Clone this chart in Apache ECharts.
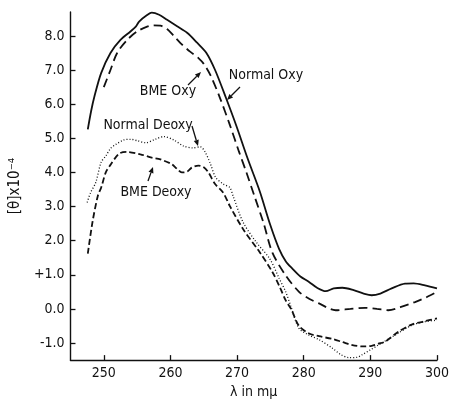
<!DOCTYPE html>
<html>
<head>
<meta charset="utf-8">
<script src="https://cdn.jsdelivr.net/npm/echarts@6/dist/echarts.min.js"></script>
<style>
  html, body { margin: 0; padding: 0; background: #fff; }
  #chart { width: 452px; height: 404px; }
</style>
</head>
<body>
<div id="chart"></div>
<script>
// wavelength (m\u03bc) and [theta] x 10^-4
var normalOxyX = [247.6, 248.1, 248.6, 249.6, 251.0, 252.5, 254.0, 254.8, 255.3, 256.5, 257.2, 258.3, 259.5, 261.0, 262.5, 264.0, 265.4, 266.7, 268.4, 269.9, 271.6, 273.4, 275.0, 276.3, 277.3, 278.3, 279.5, 280.8, 282.0, 283.3, 284.5, 285.8, 287.5, 289.0, 290.2, 291.5, 293.2, 295.2, 296.5, 298.2, 300.0]
var normalOxy = [5.26, 5.8, 6.23, 6.91, 7.5, 7.88, 8.13, 8.27, 8.42, 8.61, 8.68, 8.62, 8.47, 8.28, 8.09, 7.8, 7.5, 7.0, 6.15, 5.36, 4.4, 3.45, 2.45, 1.76, 1.4, 1.18, 0.95, 0.79, 0.62, 0.52, 0.6, 0.62, 0.55, 0.45, 0.4, 0.45, 0.6, 0.74, 0.75, 0.69, 0.6]

var bmeOxyX = [250.0, 251.0, 252.0, 253.5, 255.0, 256.5, 257.5, 258.5, 259.5, 260.5, 261.5, 263.0, 264.2, 265.0, 266.0, 267.4, 268.9, 270.3, 271.4, 272.6, 274.0, 275.3, 277.3, 279.3, 280.8, 282.3, 284.8, 287.0, 289.2, 291.0, 292.7, 294.5, 296.7, 298.5, 300.0]
var bmeOxy = [6.5, 7.0, 7.5, 7.88, 8.13, 8.27, 8.31, 8.3, 8.2, 8.0, 7.79, 7.53, 7.35, 7.18, 6.85, 6.2, 5.4, 4.6, 4.0, 3.31, 2.5, 1.65, 0.98, 0.5, 0.3, 0.16, -0.04, 0.0, 0.03, 0.0, -0.04, 0.05, 0.2, 0.35, 0.5]

var normalDeoxyX = [247.5, 248.0, 248.8, 249.6, 250.3, 251.0, 251.8, 253.0, 254.0, 255.0, 256.3, 257.7, 259.0, 260.5, 262.0, 263.4, 264.5, 265.2, 266.0, 266.8, 268.0, 268.9, 269.4, 270.9, 272.9, 274.9, 276.3, 277.3, 278.1, 279.3, 280.8, 282.3, 284.3, 285.5, 286.8, 288.0, 288.7, 290.0, 291.2, 293.7, 296.2, 298.0, 300.0]
var normalDeoxy = [3.12, 3.4, 3.71, 4.3, 4.48, 4.7, 4.82, 4.95, 4.97, 4.93, 4.87, 4.97, 5.05, 4.95, 4.77, 4.72, 4.75, 4.6, 4.25, 3.85, 3.65, 3.56, 3.31, 2.54, 1.95, 1.47, 0.9, 0.5, 0.06, -0.57, -0.77, -0.9, -1.15, -1.33, -1.43, -1.42, -1.35, -1.2, -1.06, -0.77, -0.48, -0.38, -0.33]

var bmeDeoxyX = [247.6, 248.3, 249.1, 249.6, 250.3, 251.0, 252.3, 253.5, 255.5, 257.2, 258.5, 260.2, 261.0, 261.7, 262.5, 263.2, 264.2, 265.0, 265.7, 266.7, 267.9, 268.9, 270.9, 273.4, 275.3, 276.5, 277.3, 278.1, 279.3, 280.8, 282.3, 284.3, 285.8, 287.3, 289.0, 290.2, 291.2, 292.2, 294.2, 296.2, 298.2, 300.0]
var bmeDeoxy = [1.62, 2.54, 3.31, 3.55, 4.0, 4.22, 4.55, 4.6, 4.53, 4.43, 4.38, 4.24, 4.1, 4.0, 4.02, 4.14, 4.2, 4.15, 4.0, 3.66, 3.41, 3.02, 2.34, 1.66, 1.08, 0.6, 0.25, 0.0, -0.5, -0.72, -0.8, -0.88, -0.97, -1.06, -1.1, -1.08, -1.02, -0.96, -0.67, -0.46, -0.36, -0.28]

var xTicks = [250, 260, 270, 280, 290, 300]
var yTicks = [-1, 0, 1, 2, 3, 4, 5, 6, 7, 8]

var FONT = "'DejaVu Sans Condensed', 'Liberation Sans Narrow', 'DejaVu Sans', sans-serif"
var INK = '#111'

var zip = function zip(xs, ys) {
  var out = []
  for (var i = 0; i < xs.length; i++) {
    out.push([xs[i], ys[i]])
  }
  return out
}

// simple arrow: shaft + filled head at (x2, y2)
var arrow = function arrow(x1, y1, x2, y2) {
  var a = Math.atan2(y2 - y1, x2 - x1)
  var L = 6, W = 2.6
  var bx = x2 - L * Math.cos(a), by = y2 - L * Math.sin(a)
  var px = -Math.sin(a) * W, py = Math.cos(a) * W
  return [
    { type: 'line', shape: { x1: x1, y1: y1, x2: bx, y2: by }, style: { stroke: INK, lineWidth: 1.3 } },
    { type: 'polygon', shape: { points: [[x2, y2], [bx + px, by + py], [bx - px, by - py]] }, style: { fill: INK } }
  ]
}

var label = function label(text, x, y) {
  return {
    type: 'text', x: x, y: y,
    style: { text: text, font: '14px ' + FONT, fill: INK, align: 'center', verticalAlign: 'middle' }
  }
}

var lineSeries = function lineSeries(name, data, type, width) {
  return {
    name: name,
    type: 'line',
    data: data,
    smooth: 0.3,
    symbol: 'none',
    lineStyle: { color: INK, width: width, type: type, cap: 'butt' },
    silent: true
  }
}

var myChart = echarts.init(document.getElementById('chart'), null, { renderer: 'canvas' })

var option = {
  backgroundColor: '#fff',
  animation: false,
  grid: { left: 70, right: 12, top: 12, bottom: 42 },
  xAxis: {
    type: 'value',
    min: 245,
    max: 300,
    name: '\u03bb in m\u03bc',
    nameLocation: 'middle',
    nameGap: 24,
    nameTextStyle: { fontFamily: FONT, fontSize: 14, color: INK },
    axisLine: { show: true, onZero: false, lineStyle: { color: INK, width: 1.4 } },
    axisTick: { show: true, inside: true, length: 5, customValues: xTicks, lineStyle: { color: INK, width: 1.3 } },
    axisLabel: { customValues: xTicks, margin: 6, fontFamily: FONT, fontSize: 14, color: INK },
    splitLine: { show: false }
  },
  yAxis: {
    type: 'value',
    min: -1.5,
    max: 8.7,
    name: '[\u03b8]x10\u207b\u2074',
    nameLocation: 'middle',
    nameGap: 46,
    nameRotate: 90,
    nameTextStyle: { fontFamily: FONT, fontSize: 15, color: INK },
    axisLine: { show: true, onZero: false, lineStyle: { color: INK, width: 1.4 } },
    axisTick: { show: true, inside: true, length: 5, customValues: yTicks, lineStyle: { color: INK, width: 1.3 } },
    axisLabel: {
      customValues: yTicks,
      margin: 6,
      fontFamily: FONT,
      fontSize: 14,
      color: INK,
      formatter: function (v) {
        return v === 1 ? '+1.0' : v.toFixed(1)
      }
    },
    splitLine: { show: false }
  },
  series: [
    lineSeries('Normal Oxy', zip(normalOxyX, normalOxy), 'solid', 1.8),
    lineSeries('BME Oxy', zip(bmeOxyX, bmeOxy), [9, 5], 1.8),
    lineSeries('Normal Deoxy', zip(normalDeoxyX, normalDeoxy), [1, 2], 1.3),
    lineSeries('BME Deoxy', zip(bmeDeoxyX, bmeDeoxy), [6, 3], 1.8)
  ],
  graphic: [
    label('BME Oxy', 168, 91),
    label('Normal Oxy', 266, 75),
    label('Normal Deoxy', 148, 125),
    label('BME Deoxy', 156, 192)
  ].concat(
    arrow(188, 85, 201, 72),
    arrow(240, 87, 227, 100),
    arrow(192, 126, 198, 146),
    arrow(148, 181, 153, 167)
  )
}

myChart.setOption(option, true)
</script>
</body>
</html>
